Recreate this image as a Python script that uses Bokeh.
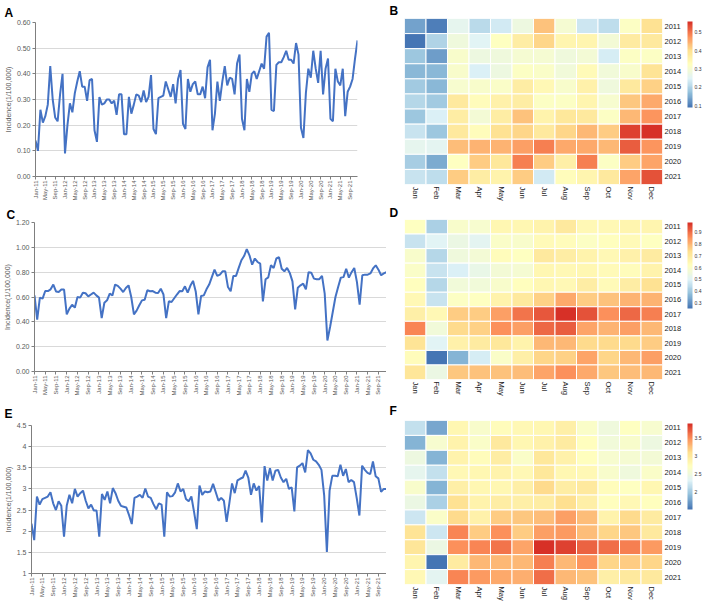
import numpy as np
from bokeh.plotting import figure
from bokeh.layouts import column, row
from bokeh.models import (Range1d, FixedTicker, NumeralTickFormatter, LinearColorMapper,
                          ColorBar, ColumnDataSource)
from bokeh.embed import file_html
from bokeh.resources import INLINE

years = [str(y) for y in range(2011, 2022)]
months = ["Jan", "Feb", "Mar", "Apr", "May", "Jun", "Jul", "Aug", "Sep", "Oct", "Nov", "Dec"]

incidence_a = [
    0.14, 0.10, 0.26, 0.21, 0.235, 0.28, 0.43, 0.30, 0.23, 0.215, 0.32, 0.40,
    0.09, 0.20, 0.285, 0.25, 0.325, 0.37, 0.41, 0.35, 0.35, 0.295, 0.375, 0.38,
    0.18, 0.135, 0.31, 0.28, 0.285, 0.30, 0.30, 0.285, 0.295, 0.24, 0.32, 0.32,
    0.165, 0.165, 0.31, 0.245, 0.28, 0.32, 0.315, 0.29, 0.335, 0.29, 0.31, 0.395,
    0.185, 0.165, 0.305, 0.31, 0.315, 0.37, 0.34, 0.31, 0.36, 0.285, 0.38, 0.415,
    0.205, 0.185, 0.38, 0.33, 0.36, 0.37, 0.32, 0.32, 0.35, 0.305, 0.425, 0.455,
    0.18, 0.245, 0.37, 0.295, 0.37, 0.43, 0.355, 0.385, 0.38, 0.32, 0.44, 0.475,
    0.225, 0.18, 0.38, 0.33, 0.40, 0.41, 0.38, 0.41, 0.44, 0.42, 0.545, 0.56,
    0.26, 0.255, 0.435, 0.445, 0.445, 0.465, 0.49, 0.455, 0.455, 0.44, 0.52, 0.475,
    0.19, 0.15, 0.325, 0.42, 0.385, 0.49, 0.42, 0.365, 0.49, 0.32, 0.42, 0.46,
    0.225, 0.215, 0.42, 0.37, 0.355, 0.42, 0.235, 0.33, 0.35, 0.38, 0.46, 0.53,
]

incidence_c = [
    0.613, 0.417, 0.595, 0.587, 0.648, 0.648, 0.662, 0.70, 0.645, 0.64, 0.66, 0.66,
    0.46, 0.506, 0.538, 0.514, 0.60, 0.595, 0.635, 0.63, 0.605, 0.62, 0.635, 0.613,
    0.595, 0.43, 0.554, 0.573, 0.627, 0.613, 0.70, 0.69, 0.667, 0.64, 0.672, 0.694,
    0.60, 0.46, 0.49, 0.533, 0.573, 0.578, 0.654, 0.646, 0.648, 0.635, 0.632, 0.667,
    0.62, 0.43, 0.565, 0.56, 0.59, 0.62, 0.648, 0.646, 0.686, 0.635, 0.69, 0.73,
    0.645, 0.46, 0.608, 0.613, 0.662, 0.70, 0.76, 0.82, 0.77, 0.78, 0.807, 0.807,
    0.68, 0.646, 0.77, 0.77, 0.834, 0.896, 0.93, 0.985, 0.936, 0.86, 0.91, 0.882,
    0.869, 0.565, 0.743, 0.758, 0.855, 0.834, 0.91, 0.92, 0.828, 0.807, 0.834, 0.794,
    0.726, 0.50, 0.675, 0.694, 0.707, 0.662, 0.80, 0.796, 0.748, 0.743, 0.743, 0.77,
    0.627, 0.25, 0.358, 0.479, 0.60, 0.68, 0.756, 0.76, 0.828, 0.756, 0.80, 0.834,
    0.72, 0.538, 0.775, 0.78, 0.78, 0.79, 0.83, 0.855, 0.82, 0.775, 0.79, 0.80,
]

incidence_e = [
    2.18, 1.79, 2.82, 2.63, 2.76, 2.79, 2.82, 2.92, 2.66, 2.50, 2.71, 2.60,
    1.87, 2.60, 2.86, 2.66, 3.00, 2.82, 2.90, 2.96, 2.72, 2.54, 2.63, 2.49,
    2.49, 1.87, 2.88, 2.74, 2.94, 2.66, 3.02, 2.90, 2.72, 2.60, 2.58, 2.56,
    2.38, 2.17, 2.79, 2.82, 2.86, 2.79, 3.01, 2.82, 2.79, 2.64, 2.52, 2.66,
    2.63, 1.87, 2.92, 2.82, 2.83, 2.92, 3.13, 2.94, 3.00, 2.76, 2.71, 2.82,
    2.45, 2.05, 3.08, 2.86, 2.94, 2.92, 2.94, 3.12, 2.92, 2.72, 2.79, 2.72,
    2.22, 2.66, 3.13, 2.90, 3.20, 3.24, 3.27, 3.43, 3.27, 2.86, 3.13, 2.96,
    3.07, 2.21, 3.54, 3.20, 3.49, 3.20, 3.43, 3.45, 3.27, 3.16, 3.24, 3.00,
    3.04, 2.47, 3.51, 3.55, 3.61, 3.39, 3.92, 3.84, 3.69, 3.65, 3.57, 3.45,
    2.85, 1.51, 2.96, 3.31, 3.31, 3.30, 3.57, 3.31, 3.47, 3.16, 3.21, 3.16,
    2.79, 2.37, 3.55, 3.45, 3.38, 3.35, 3.65, 3.30, 3.25, 2.93, 3.00, 3.00,
]

y_label = "Incidence(1/100,000)"
period_labels = [f"{m}-{y[2:]}" for y in years for m in months]

FONT = "Liberation Sans"
LINE_COLOR = "#4472C4"
AXIS_GRAY = "#595959"
LEFT_W = 386
RIGHT_W = 321


def ramp(colors, n):
    rgb = np.array([[int(c[i:i + 2], 16) for i in (1, 3, 5)] for c in colors], float)
    pos = np.linspace(0, 1, len(colors))
    out = []
    for t in np.linspace(0, 1, n):
        r, g, b = (np.interp(t, pos, rgb[:, k]) for k in range(3))
        out.append("#%02x%02x%02x" % (int(round(r)), int(round(g)), int(round(b))))
    return out


PALETTE = ramp(["#4575B4", "#91BFDB", "#E0F3F8", "#FFFFBF", "#FEE090", "#FC8D59", "#D73027"], 100)


def set_letter(p, letter, offset, standoff):
    p.title.text = letter
    p.title.text_font = FONT
    p.title.text_font_size = "12px"
    p.title.text_font_style = "bold"
    p.title.align = "left"
    p.title.offset = offset
    p.title.standoff = standoff
    p.title.text_color = "black"


def line_fig(vals, letter, y0, y1, step, fmt, height, b_left, b_right, b_top, b_bottom, t_standoff):
    p = figure(width=LEFT_W, height=height, output_backend="svg", toolbar_location=None,
               x_range=Range1d(0, len(vals) - 1), y_range=Range1d(y0, y1),
               min_border_left=b_left, min_border_right=b_right,
               min_border_top=b_top, min_border_bottom=b_bottom)
    x = list(range(len(vals)))
    p.line(x, vals, line_color=LINE_COLOR, line_width=2)
    p.outline_line_color = None
    p.xgrid.grid_line_color = None
    p.ygrid.grid_line_color = "#d9d9d9"
    p.ygrid.grid_line_width = 1
    nt = int(round((y1 - y0) / step))
    p.yaxis.ticker = FixedTicker(ticks=[round(y0 + k * step, 6) for k in range(nt + 1)])
    p.yaxis.formatter = NumeralTickFormatter(format=fmt)
    ticks = list(range(0, len(vals), 4))
    p.xaxis.ticker = FixedTicker(ticks=ticks)
    p.xaxis.major_label_overrides = {t: period_labels[t] for t in ticks}
    p.xaxis.major_label_orientation = np.pi / 2
    for ax in (p.xaxis, p.yaxis):
        ax.axis_line_color = "#7f7f7f"
        ax.major_tick_line_color = "#7f7f7f"
        ax.major_tick_out = 3
        ax.major_tick_in = 0
        ax.minor_tick_line_color = None
        ax.minor_tick_out = 0
        ax.minor_tick_in = 0
        ax.major_label_text_font = FONT
        ax.major_label_text_color = AXIS_GRAY
        ax.major_label_standoff = 2
    p.xaxis.major_label_standoff = 1
    p.xaxis.major_label_text_font_size = "6px"
    p.yaxis.major_label_text_font_size = "7px"
    p.yaxis.axis_label = y_label
    p.yaxis.axis_label_text_font = FONT
    p.yaxis.axis_label_text_font_size = "7px"
    p.yaxis.axis_label_text_font_style = "normal"
    p.yaxis.axis_label_text_color = AXIS_GRAY
    p.yaxis.axis_label_standoff = 2
    set_letter(p, letter, 4 - b_left, t_standoff)
    return p


def heat_fig(vals, letter, ticks, fmt, height, b_top, b_bottom, t_standoff):
    mapper = LinearColorMapper(palette=PALETTE, low=min(vals), high=max(vals))
    src = ColumnDataSource(dict(
        month=[m for y in years for m in months],
        year=[y for y in years for m in months],
        value=vals,
    ))
    p = figure(width=RIGHT_W, height=height, output_backend="svg", toolbar_location=None,
               x_range=months, y_range=list(reversed(years)), y_axis_location="right",
               min_border_left=18, min_border_right=0,
               min_border_top=b_top, min_border_bottom=b_bottom)
    p.rect("month", "year", 1, 1, source=src,
           fill_color={"field": "value", "transform": mapper},
           line_color="white", line_width=1)
    p.outline_line_color = None
    p.grid.grid_line_color = None
    for ax in (p.xaxis, p.yaxis):
        ax.axis_line_color = None
        ax.major_tick_line_color = None
        ax.minor_tick_line_color = None
        ax.major_tick_out = 0
        ax.major_tick_in = 0
        ax.minor_tick_out = 0
        ax.minor_tick_in = 0
        ax.major_label_text_font = FONT
        ax.major_label_text_font_size = "7.5px"
        ax.major_label_text_color = "#222222"
        ax.major_label_standoff = 2
    p.xaxis.major_label_orientation = -np.pi / 2
    cb = ColorBar(color_mapper=mapper, width=5, height=86,
                  ticker=FixedTicker(ticks=ticks),
                  formatter=NumeralTickFormatter(format=fmt),
                  major_label_text_font=FONT, major_label_text_font_size="5px",
                  major_label_text_color="#333333",
                  major_tick_line_color=None, major_tick_out=0, major_tick_in=0,
                  minor_tick_line_color=None, bar_line_color=None,
                  label_standoff=2, padding=3, margin=0,
                  background_fill_color=None, border_line_color=None)
    p.add_layout(cb, "right")
    set_letter(p, letter, -15, t_standoff)
    return p


pA = line_fig(incidence_a, "A", 0.0, 0.6, 0.1, "0.00", 203, 35, 29, 22, 25, 5)
pC = line_fig(incidence_c, "C", 0.0, 1.2, 0.2, "0.00", 195, 32, 0, 19, 27, 2)
pE = line_fig(incidence_e, "E", 1.0, 4.5, 0.5, "0.[0]", 205, 31, 0, 27, 30, 10)

pB = heat_fig(incidence_a, "B", [0.1, 0.2, 0.3, 0.4, 0.5], "0.0", 203, 18, 19, 1)
pD = heat_fig(incidence_c, "D", [0.3, 0.4, 0.5, 0.6, 0.7, 0.8, 0.9], "0.0", 195, 14, 15, 0)
pF = heat_fig(incidence_e, "F", [2, 2.5, 3, 3.5], "0.[0]", 205, 22, 18, 5)

layout = column(
    row(column(pA), column(pB)),
    row(column(pC), column(pD)),
    row(column(pE), column(pF)),
)

open("out.html", "w").write(file_html(layout, INLINE))
